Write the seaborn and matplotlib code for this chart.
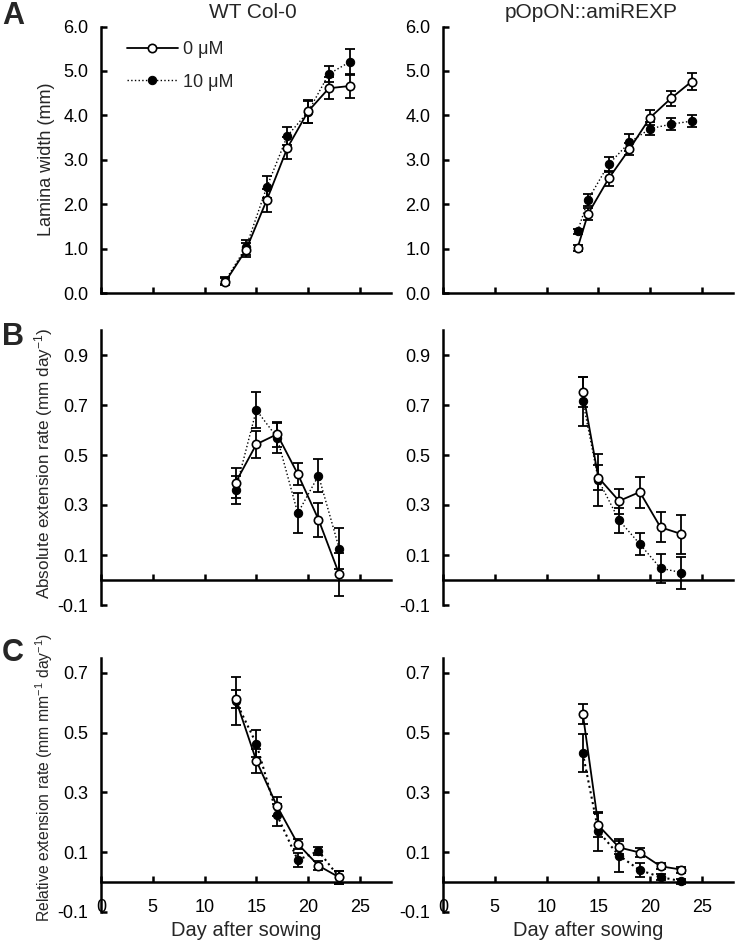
import matplotlib
matplotlib.use('Agg')
import matplotlib.pyplot as plt
import pandas as pd
import seaborn as sns

# Data
# Panel A: lamina width (mm)
wt_days_width = [12, 14, 16, 18, 20, 22, 24]
wt_width_0 = [0.25, 0.97, 2.09, 3.27, 4.09, 4.61, 4.66]
wt_width_0_err = [0.08, 0.15, 0.26, 0.25, 0.26, 0.25, 0.28]
wt_width_10 = [0.28, 1.03, 2.38, 3.54, 4.08, 4.93, 5.20]
wt_width_10_err = [0.08, 0.17, 0.25, 0.20, 0.25, 0.19, 0.30]

amir_days_width = [13, 14, 16, 18, 20, 22, 24]
amir_width_0 = [1.02, 1.78, 2.58, 3.24, 3.95, 4.38, 4.76]
amir_width_0_err = [0.07, 0.14, 0.17, 0.13, 0.16, 0.16, 0.19]
amir_width_10 = [1.39, 2.10, 2.90, 3.39, 3.70, 3.80, 3.87]
amir_width_10_err = [0.06, 0.14, 0.17, 0.19, 0.14, 0.13, 0.13]

# Panel B: absolute extension rate (mm day-1)
wt_days_rate = [13, 15, 17, 19, 21, 23]
wt_abs_0 = [0.39, 0.543, 0.583, 0.424, 0.242, 0.023]
wt_abs_0_err = [0.06, 0.055, 0.05, 0.045, 0.068, 0.087]
wt_abs_10 = [0.36, 0.68, 0.57, 0.267, 0.418, 0.126]
wt_abs_10_err = [0.055, 0.073, 0.06, 0.08, 0.067, 0.083]

amir_days_rate = [13.5, 15, 17, 19, 21, 23]
amir_abs_0 = [0.753, 0.41, 0.316, 0.352, 0.211, 0.184]
amir_abs_0_err = [0.06, 0.05, 0.05, 0.062, 0.06, 0.078]
amir_abs_10 = [0.715, 0.40, 0.239, 0.144, 0.047, 0.03]
amir_abs_10_err = [0.097, 0.105, 0.05, 0.043, 0.057, 0.064]

# Panel C: relative extension rate (mm mm-1 day-1)
wt_rel_0 = [0.612, 0.406, 0.254, 0.128, 0.055, 0.016]
wt_rel_0_err = [0.03, 0.041, 0.032, 0.017, 0.015, 0.022]
wt_rel_10 = [0.607, 0.463, 0.224, 0.074, 0.104, 0.016]
wt_rel_10_err = [0.08, 0.045, 0.036, 0.024, 0.013, 0.022]

amir_rel_0 = [0.563, 0.19, 0.116, 0.099, 0.053, 0.042]
amir_rel_0_err = [0.033, 0.04, 0.022, 0.016, 0.01, 0.01]
amir_rel_10 = [0.431, 0.17, 0.089, 0.04, 0.017, 0.003]
amir_rel_10_err = [0.063, 0.066, 0.055, 0.024, 0.01, 0.008]

genotypes = ['WT Col-0', 'pOpON::amiREXP']
x_ticks = [0, 5, 10, 15, 20, 25]

sns.set_style('ticks')
plt.rcParams['font.family'] = ['Liberation Sans', 'DejaVu Sans']
plt.rcParams['mathtext.fontset'] = 'custom'
plt.rcParams['mathtext.rm'] = 'Liberation Sans'
plt.rcParams['mathtext.it'] = 'Liberation Sans:italic'
plt.rcParams['mathtext.bf'] = 'Liberation Sans:bold'

FS = 13
W, H = 738, 952
fig = plt.figure(figsize=(W / 100, H / 100), dpi=100)


def make_ax(left, right, top, bottom):
    return fig.add_axes([left / W, 1 - bottom / H, (right - left) / W, (bottom - top) / H])


def draw_series(ax, days, v0, e0, v10, e10, labels=False, dot_lw=1.0):
    df = pd.DataFrame({'day': days, 'v0': v0, 'v10': v10})
    ax.errorbar(days, v10, yerr=e10, fmt='none', ecolor='black', elinewidth=1.3,
                capsize=3.5, capthick=1.3, zorder=2)
    ax.errorbar(days, v0, yerr=e0, fmt='none', ecolor='black', elinewidth=1.3,
                capsize=3.5, capthick=1.3, zorder=2)
    sns.lineplot(data=df, x='day', y='v10', ax=ax, color='black', linestyle=':',
                 lw=dot_lw, marker='o', markersize=6, markerfacecolor='black',
                 markeredgecolor='black', label='10 μM' if labels else None,
                 legend=False, zorder=3)
    sns.lineplot(data=df, x='day', y='v0', ax=ax, color='black', linestyle='-',
                 lw=1.3, marker='o', markersize=6, markerfacecolor='white',
                 markeredgecolor='black', markeredgewidth=1.2,
                 label='0 μM' if labels else None, legend=False, zorder=4)


def style_ax(ax, ylim, yticks, ylabel=None, ylabel_size=FS, ylabel_y=0.5,
             zero_spine=False, xlabels=False):
    ax.set_xlim(0, 28)
    ax.set_ylim(*ylim)
    ax.set_xticks(x_ticks)
    ax.set_yticks(yticks)
    ax.set_yticklabels([f'{t:.1f}' for t in yticks])
    for s in ['top', 'right']:
        ax.spines[s].set_visible(False)
    for s in ['left', 'bottom']:
        ax.spines[s].set_linewidth(1.8)
        ax.spines[s].set_color('black')
    if zero_spine:
        ax.spines['bottom'].set_position(('data', 0))
    ax.tick_params(axis='both', direction='in', length=4, width=1.8,
                   labelsize=FS, colors='black')
    ax.tick_params(axis='y', pad=9)
    if xlabels:
        ax.set_xticklabels([str(t) for t in x_ticks])
        ax.tick_params(axis='x', pad=12)
        ax.set_xlabel('Day after sowing', fontsize=14.5, labelpad=4)
    else:
        ax.tick_params(axis='x', labelbottom=False)
        ax.set_xlabel('')
    if ylabel:
        ax.set_ylabel(ylabel, fontsize=ylabel_size)
        ax.yaxis.set_label_coords(-0.16, ylabel_y)
    else:
        ax.set_ylabel('')


cols = [(101, 391), (443, 733)]
rowA = (26.5, 293)
rowB = (330, 605)
rowC = (658, 912)

# Panel A
axA1 = make_ax(cols[0][0], cols[0][1], *rowA)
draw_series(axA1, wt_days_width, wt_width_0, wt_width_0_err, wt_width_10, wt_width_10_err, labels=True)
style_ax(axA1, (0, 6), [0, 1, 2, 3, 4, 5, 6], 'Lamina width (mm)')
handles, labels = axA1.get_legend_handles_labels()
axA1.legend(handles[::-1], labels[::-1], loc='upper left', bbox_to_anchor=(0.09, 0.945),
            frameon=False, fontsize=FS, handlelength=2.8, handletextpad=0.3,
            labelspacing=0.85, borderpad=0, borderaxespad=0)

axA2 = make_ax(cols[1][0], cols[1][1], *rowA)
draw_series(axA2, amir_days_width, amir_width_0, amir_width_0_err, amir_width_10, amir_width_10_err)
style_ax(axA2, (0, 6), [0, 1, 2, 3, 4, 5, 6])

# Panel B
b_ticks = [-0.1, 0.1, 0.3, 0.5, 0.7, 0.9]
axB1 = make_ax(cols[0][0], cols[0][1], *rowB)
draw_series(axB1, wt_days_rate, wt_abs_0, wt_abs_0_err, wt_abs_10, wt_abs_10_err)
style_ax(axB1, (-0.1, 1.0), b_ticks, 'Absolute extension rate (mm day$^{-1}$)',
         ylabel_size=12.3, ylabel_y=0.515, zero_spine=True)

axB2 = make_ax(cols[1][0], cols[1][1], *rowB)
draw_series(axB2, amir_days_rate, amir_abs_0, amir_abs_0_err, amir_abs_10, amir_abs_10_err)
style_ax(axB2, (-0.1, 1.0), b_ticks, zero_spine=True)

# Panel C
c_ticks = [-0.1, 0.1, 0.3, 0.5, 0.7]
axC1 = make_ax(cols[0][0], cols[0][1], *rowC)
draw_series(axC1, wt_days_rate, wt_rel_0, wt_rel_0_err, wt_rel_10, wt_rel_10_err, dot_lw=1.5)
style_ax(axC1, (-0.1, 0.75), c_ticks, 'Relative extension rate (mm mm$^{-1}$ day$^{-1}$)',
         ylabel_size=11.3, ylabel_y=0.53, zero_spine=True, xlabels=True)

axC2 = make_ax(cols[1][0], cols[1][1], *rowC)
draw_series(axC2, amir_days_rate, amir_rel_0, amir_rel_0_err, amir_rel_10, amir_rel_10_err, dot_lw=1.5)
style_ax(axC2, (-0.1, 0.75), c_ticks, zero_spine=True, xlabels=True)

# Column titles and panel letters
fig.text(253 / W, 1 - 13 / H, genotypes[0], ha='center', va='center', fontsize=15)
fig.text(591 / W, 1 - 13 / H, genotypes[1], ha='center', va='center', fontsize=15)
for letter, ytop in [('A', 1), ('B', 322), ('C', 638)]:
    fig.text(2 / W, 1 - ytop / H, letter, ha='left', va='top', fontsize=22,
             fontweight='bold')

fig.savefig('out.png', dpi=100)
